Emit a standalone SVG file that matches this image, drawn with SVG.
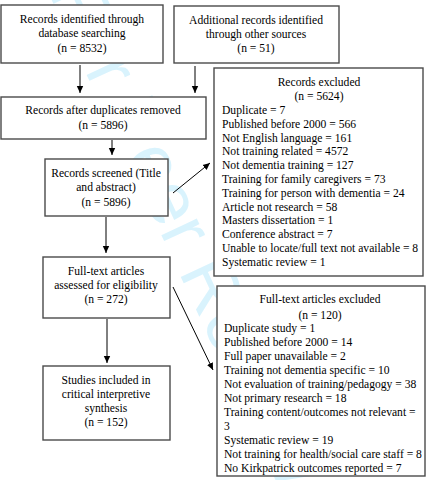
<svg xmlns="http://www.w3.org/2000/svg" width="428" height="480" viewBox="0 0 428 480">
<defs>
<marker id="ah" markerWidth="8" markerHeight="8" refX="7" refY="4" orient="auto" markerUnits="userSpaceOnUse">
<path d="M0,0.8 L7,4 L0,7.2 Z" fill="#000"/>
</marker>
<style>
.box{fill:#fff;stroke:#4a4a4a;stroke-width:1.4}
.t{font-size:11.6px;fill:#000}
.c{text-anchor:middle}
.wm{font-size:74px;fill:#d9f3fd}
.ln{stroke:#000;stroke-width:1;fill:none;marker-end:url(#ah)}
</style>
</defs>
<rect width="428" height="480" fill="#fff"/>
<text class="wm" font-family="Liberation Sans, sans-serif" transform="translate(48,-8) rotate(65)">For Peer Review</text>
<g id="connectors">
<line class="ln" x1="80" y1="65" x2="80" y2="93"/>
<line class="ln" x1="195" y1="66" x2="195" y2="93"/>
<line class="ln" x1="112" y1="140" x2="112" y2="155"/>
<line class="ln" x1="173" y1="193" x2="210" y2="163"/>
<line class="ln" x1="106" y1="217" x2="106" y2="253"/>
<line class="ln" x1="173" y1="287" x2="213" y2="370"/>
<line class="ln" x1="107" y1="319" x2="107" y2="363"/>
</g>
<g class="t" font-family="Liberation Serif, serif">
<g id="n1">
<rect class="box" x="1" y="5" width="162" height="58"/>
<text class="c" x="82" y="23">Records identified through</text>
<text class="c" x="82" y="37">database searching</text>
<text class="c" x="82" y="52">(n = 8532)</text>
</g>
<g id="n2">
<rect class="box" x="174" y="6" width="165" height="57"/>
<text class="c" x="256" y="24">Additional records identified</text>
<text class="c" x="256" y="38">through other sources</text>
<text class="c" x="256" y="52">(n =  51)</text>
</g>
<g id="n3">
<rect class="box" x="1" y="97" width="205" height="42"/>
<text class="c" x="103" y="114">Records after duplicates removed</text>
<text class="c" x="103" y="129">(n = 5896)</text>
</g>
<g id="n4">
<rect class="box" x="45" y="159" width="123" height="57"/>
<text class="c" x="106" y="177">Records screened (Title</text>
<text class="c" x="106" y="191">and abstract)</text>
<text class="c" x="106" y="206">(n = 5896)</text>
</g>
<g id="n5">
<rect class="box" x="43" y="257" width="127" height="61"/>
<text class="c" x="106" y="275">Full-text articles</text>
<text class="c" x="106" y="289">assessed for eligibility</text>
<text class="c" x="106" y="303">(n =  272)</text>
</g>
<g id="n6">
<rect class="box" x="43" y="366" width="127" height="74"/>
<text class="c" x="106" y="384">Studies included in</text>
<text class="c" x="106" y="398">critical interpretive</text>
<text class="c" x="106" y="412">synthesis</text>
<text class="c" x="106" y="426">(n = 152)</text>
</g>
<g id="n7">
<rect class="box" x="214" y="68" width="209" height="208"/>
<text class="c" x="319" y="86">Records excluded</text>
<text class="c" x="319" y="100">(n =  5624)</text>
<text x="222" y="114">Duplicate = 7</text>
<text x="222" y="127.8">Published before 2000 = 566</text>
<text x="222" y="141.6">Not English language = 161</text>
<text x="222" y="155.4">Not training related = 4572</text>
<text x="222" y="169.2">Not dementia training = 127</text>
<text x="222" y="183">Training for family caregivers = 73</text>
<text x="222" y="196.8">Training for person with dementia = 24</text>
<text x="222" y="210.6">Article not research = 58</text>
<text x="222" y="224.4">Masters dissertation = 1</text>
<text x="222" y="238.2">Conference abstract = 7</text>
<text x="222" y="252">Unable to locate/full text not available = 8</text>
<text x="222" y="265.8">Systematic review = 1</text>
</g>
<g id="n8">
<rect class="box" x="217" y="286" width="208" height="190"/>
<text class="c" x="320" y="303">Full-text articles excluded</text>
<text class="c" x="320" y="319">(n =  120)</text>
<text x="224" y="332">Duplicate study = 1</text>
<text x="224" y="346">Published before 2000 = 14</text>
<text x="224" y="360">Full paper unavailable = 2</text>
<text x="224" y="374">Training not dementia specific = 10</text>
<text x="224" y="388">Not evaluation of training/pedagogy = 38</text>
<text x="224" y="402">Not primary research = 18</text>
<text x="224" y="416">Training content/outcomes not relevant =</text>
<text x="224" y="430">3</text>
<text x="224" y="444">Systematic review = 19</text>
<text x="224" y="458">Not training for health/social care staff = 8</text>
<text x="224" y="472">No Kirkpatrick outcomes reported = 7</text>
</g>
</g>
</svg>
